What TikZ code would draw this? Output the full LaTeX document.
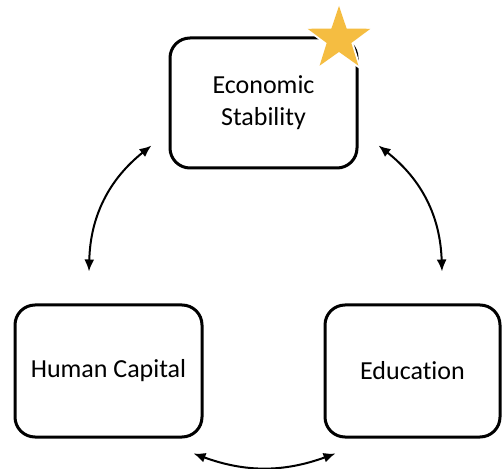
\documentclass[tikz,border=0pt]{standalone}
\usepackage{fontspec}
\setmainfont{Carlito}[Ligatures=NoCommon]
\usetikzlibrary{arrows.meta}
\usetikzlibrary{shapes.geometric}

\definecolor{stargold}{RGB}{245,189,65}

\begin{document}
\begin{tikzpicture}[
            x=1pt, y=1pt,
            >={Latex[length=12pt,width=10pt]},
            box/.style={draw, line width=3pt, rounded corners=20pt,
                        align=center, font=\fontsize{26}{32}\selectfont},
            link/.style={<->, line width=2pt},
            starshape/.style={star, star points=5, star point ratio=2.55, inner sep=0pt},
    ]
    \useasboundingbox (0, 0) rectangle (502, 468);

    \node[box, minimum width=187pt, minimum height=130pt] (es) at (263.5, 365) {Economic\\Stability};
    \node[box, minimum width=187pt, minimum height=132pt] (hc) at (108.5, 97) {Human Capital};
    \node[box, minimum width=175pt, minimum height=132pt] (edu) at (412.5, 97) {Education};

    % white halo cuts the box corner, gold star on top
    \node[starshape, minimum size=78pt, fill=white] (halo) at (339, 429) {};
    \node[starshape, minimum size=66pt, fill=stargold] (mark) at (halo) {};

    \draw[link] ([shift={(-17, 24)}]es.south west) to[bend right=25] ([shift={(-19.5, 32)}]hc.north);
    \draw[link] ([shift={(20, 24)}]es.south east) to[bend left=25] ([shift={(29.5, 32)}]edu.north);
    \draw[link] ([shift={(-10, -15)}]hc.south east) to[bend right=20] ([shift={(12, -15)}]edu.south west);
\end{tikzpicture}
\end{document}
